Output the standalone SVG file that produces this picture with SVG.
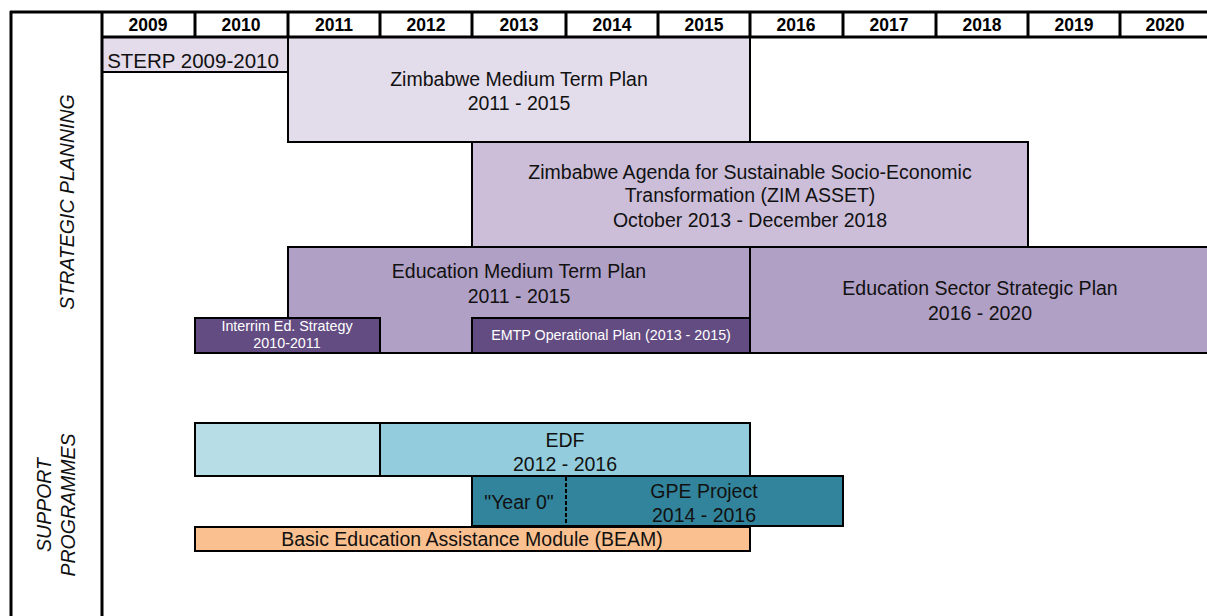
<svg xmlns="http://www.w3.org/2000/svg" width="1207" height="616" viewBox="0 0 1207 616">
  <style>
    .yr { font-family: "Liberation Sans", Arial, sans-serif; font-size: 17.5px; font-weight: bold; text-anchor: middle; fill: #000; }
    .lbl { font-family: "Liberation Sans", Arial, sans-serif; font-size: 19.5px; text-anchor: middle; fill: #111; }
    .small { font-family: "Liberation Sans", Arial, sans-serif; font-size: 14.3px; text-anchor: middle; fill: #fff; }
    .side { font-family: "Liberation Sans", Arial, sans-serif; font-size: 19.5px; font-style: italic; text-anchor: middle; fill: #111; }
    .bar { stroke: #000; stroke-width: 2; }
    .frame { stroke: #000; fill: none; }
  </style>

  <rect x="0" y="0" width="1207" height="616" fill="#fff"/>

  <!-- planning bars -->
  <g id="sterp">
    <rect x="102" y="37" width="186" height="35" fill="#e4dcea"/>
    <line x1="102" y1="72" x2="288" y2="72" stroke="#000" stroke-width="2"/>
    <text class="lbl" x="193" y="68" style="font-size:20.5px">STERP 2009-2010</text>
  </g>
  <g id="zmtp">
    <rect class="bar" x="288" y="37" width="462" height="105" fill="#e3dcea"/>
    <text class="lbl" x="519" y="86">Zimbabwe Medium Term Plan</text>
    <text class="lbl" x="519" y="110">2011 - 2015</text>
  </g>
  <g id="zimasset">
    <rect class="bar" x="472" y="142" width="556" height="105" fill="#ccbed9"/>
    <text class="lbl" x="750" y="179">Zimbabwe Agenda for Sustainable Socio-Economic</text>
    <text class="lbl" x="750" y="202">Transformation (ZIM ASSET)</text>
    <text class="lbl" x="750" y="227">October 2013 - December 2018</text>
  </g>
  <g id="emtp">
    <rect class="bar" x="288" y="247" width="462" height="106" fill="#b1a0c6"/>
    <text class="lbl" x="519" y="278">Education Medium Term Plan</text>
    <text class="lbl" x="519" y="303">2011 - 2015</text>
  </g>
  <g id="essp">
    <rect class="bar" x="750" y="247" width="460" height="106" fill="#b1a0c6"/>
    <text class="lbl" x="980" y="295">Education Sector Strategic Plan</text>
    <text class="lbl" x="980" y="320">2016 - 2020</text>
  </g>
  <g id="interim">
    <rect class="bar" x="195" y="318" width="185" height="35" fill="#634c82"/>
    <text class="small" x="287" y="331">Interrim Ed. Strategy</text>
    <text class="small" x="287" y="348">2010-2011</text>
  </g>
  <g id="emtp-op">
    <rect class="bar" x="472" y="318" width="278" height="35" fill="#634c82"/>
    <text class="small" x="611" y="340">EMTP Operational Plan (2013 - 2015)</text>
  </g>

  <!-- support programme bars -->
  <g id="edf">
    <rect class="bar" x="195" y="423" width="185" height="53" fill="#b7dde7"/>
    <rect class="bar" x="380" y="423" width="370" height="53" fill="#93cddd"/>
    <text class="lbl" x="565" y="447">EDF</text>
    <text class="lbl" x="565" y="471">2012 - 2016</text>
  </g>
  <g id="gpe">
    <rect class="bar" x="472" y="476" width="371" height="50" fill="#31849b"/>
    <line x1="566" y1="477" x2="566" y2="525" stroke="#000" stroke-width="2" stroke-dasharray="4,2"/>
    <text class="lbl" x="519" y="509">"Year 0"</text>
    <text class="lbl" x="704" y="498">GPE Project</text>
    <text class="lbl" x="704" y="522">2014 - 2016</text>
  </g>
  <g id="beam">
    <rect class="bar" x="195" y="527" width="555" height="24" fill="#fac090"/>
    <text class="lbl" x="472" y="546">Basic Education Assistance Module (BEAM)</text>
  </g>

  <!-- frame and year header -->
  <g id="header">
    <line class="frame" x1="10" y1="12" x2="1207" y2="12" stroke-width="3"/>
    <line class="frame" x1="102" y1="37" x2="1207" y2="37" stroke-width="3"/>
    <line class="frame" x1="11" y1="11" x2="11" y2="616" stroke-width="3"/>
    <line class="frame" x1="102" y1="11" x2="102" y2="616" stroke-width="3"/>
    <g stroke="#000" stroke-width="3">
      <line x1="195" y1="12" x2="195" y2="37"/>
      <line x1="288" y1="12" x2="288" y2="37"/>
      <line x1="380" y1="12" x2="380" y2="37"/>
      <line x1="472" y1="12" x2="472" y2="37"/>
      <line x1="566" y1="12" x2="566" y2="37"/>
      <line x1="658" y1="12" x2="658" y2="37"/>
      <line x1="750" y1="12" x2="750" y2="37"/>
      <line x1="843" y1="12" x2="843" y2="37"/>
      <line x1="936" y1="12" x2="936" y2="37"/>
      <line x1="1028" y1="12" x2="1028" y2="37"/>
      <line x1="1120" y1="12" x2="1120" y2="37"/>
    </g>
    <text class="yr" x="148" y="31">2009</text>
    <text class="yr" x="241" y="31">2010</text>
    <text class="yr" x="334" y="31">2011</text>
    <text class="yr" x="426" y="31">2012</text>
    <text class="yr" x="519" y="31">2013</text>
    <text class="yr" x="612" y="31">2014</text>
    <text class="yr" x="704" y="31">2015</text>
    <text class="yr" x="796" y="31">2016</text>
    <text class="yr" x="889" y="31">2017</text>
    <text class="yr" x="982" y="31">2018</text>
    <text class="yr" x="1074" y="31">2019</text>
    <text class="yr" x="1165" y="31">2020</text>
  </g>

  <!-- row captions -->
  <g id="row-labels">
    <text class="side" transform="translate(74,202) rotate(-90)">STRATEGIC PLANNING</text>
    <text class="side" transform="translate(51,505) rotate(-90)">SUPPORT</text>
    <text class="side" transform="translate(75,505) rotate(-90)">PROGRAMMES</text>
  </g>
</svg>
